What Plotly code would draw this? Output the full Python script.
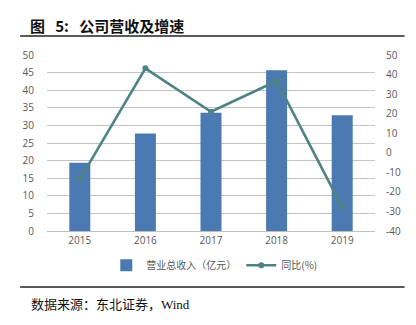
import plotly.graph_objects as go

years = ["2015", "2016", "2017", "2018", "2019"]
revenue = [19.4, 27.7, 33.6, 45.7, 32.9]      # 营业总收入（亿元）
growth = [-13.6, 43.2, 21.0, 36.7, -27.9]     # 同比(%)
right_ticks = [-40, -30, -20, -10, 0, 10, 20, 30, 40, 50]
right_labels = ["-40", "-30", "-20", "-10", "0", "10", "20", "30", "40", "50"]

bar_color = "#4A7AB1"
line_color = "#4F8284"
tick_font = dict(family="Open Sans, Noto Sans CJK SC, sans-serif", size=10, color="#595959")

fig = go.Figure()
fig.add_trace(go.Bar(
    x=years, y=revenue, name="营业总收入（亿元）",
    marker=dict(color=bar_color, line=dict(width=0)),
    width=0.32, yaxis="y",
))
fig.add_trace(go.Scatter(
    x=years, y=growth, name="同比(%)", mode="lines+markers",
    line=dict(color=line_color, width=2.6),
    marker=dict(color=line_color, size=6),
    yaxis="y2",
))

fig.update_layout(
    width=416, height=325,
    margin=dict(l=47, r=41, t=55, b=94),
    paper_bgcolor="white", plot_bgcolor="white",
    showlegend=True,
    legend=dict(
        orientation="h", x=0.51, xanchor="center", y=-0.195, yanchor="middle",
        font=dict(family="Noto Sans CJK SC, sans-serif", size=10, color="#595959"),
        itemwidth=30, tracegroupgap=0, bgcolor="rgba(0,0,0,0)",
    ),
    xaxis=dict(
        type="category", tickfont=tick_font, showgrid=False,
        showline=True, linecolor="#BFBFBF", linewidth=1, ticks="",
    ),
    yaxis=dict(
        range=[0, 50], dtick=5, tickfont=tick_font,
        showgrid=True, gridcolor="#C4C4C4", gridwidth=1.3,
        zeroline=False, ticks="", ticklabelstandoff=12,
    ),
    yaxis2=dict(
        range=[-40, 50], tickmode="array", tickvals=right_ticks, ticktext=right_labels,
        tickfont=tick_font, overlaying="y", side="right",
        showgrid=False, zeroline=False, ticks="", ticklabelstandoff=10,
    ),
    bargap=0.68,
    annotations=[
        dict(
            text="<b>图\u00a0\u00a0\u00a05:\u00a0\u00a0\u00a0公司营收及增速</b>", xref="paper", yref="paper",
            x=-0.058, y=1.17, xanchor="left", yanchor="middle", showarrow=False,
            font=dict(family="Noto Sans CJK SC, sans-serif", size=15, color="#111111"),
        ),
        dict(
            text="数据来源：东北证券，Wind", xref="paper", yref="paper",
            x=-0.055, y=-0.415, xanchor="left", yanchor="middle", showarrow=False,
            font=dict(family="Liberation Serif, Noto Sans CJK SC, serif", size=13, color="#111111"),
        ),
    ],
    shapes=[
        dict(type="line", xref="paper", yref="paper", x0=-0.082, x1=1.09,
             y0=1.108, y1=1.108, line=dict(color="#222222", width=1.5)),
        dict(type="line", xref="paper", yref="paper", x0=-0.082, x1=1.09,
             y0=-0.318, y1=-0.318, line=dict(color="#222222", width=1.5)),
    ],
)

fig.write_html("out.html")
